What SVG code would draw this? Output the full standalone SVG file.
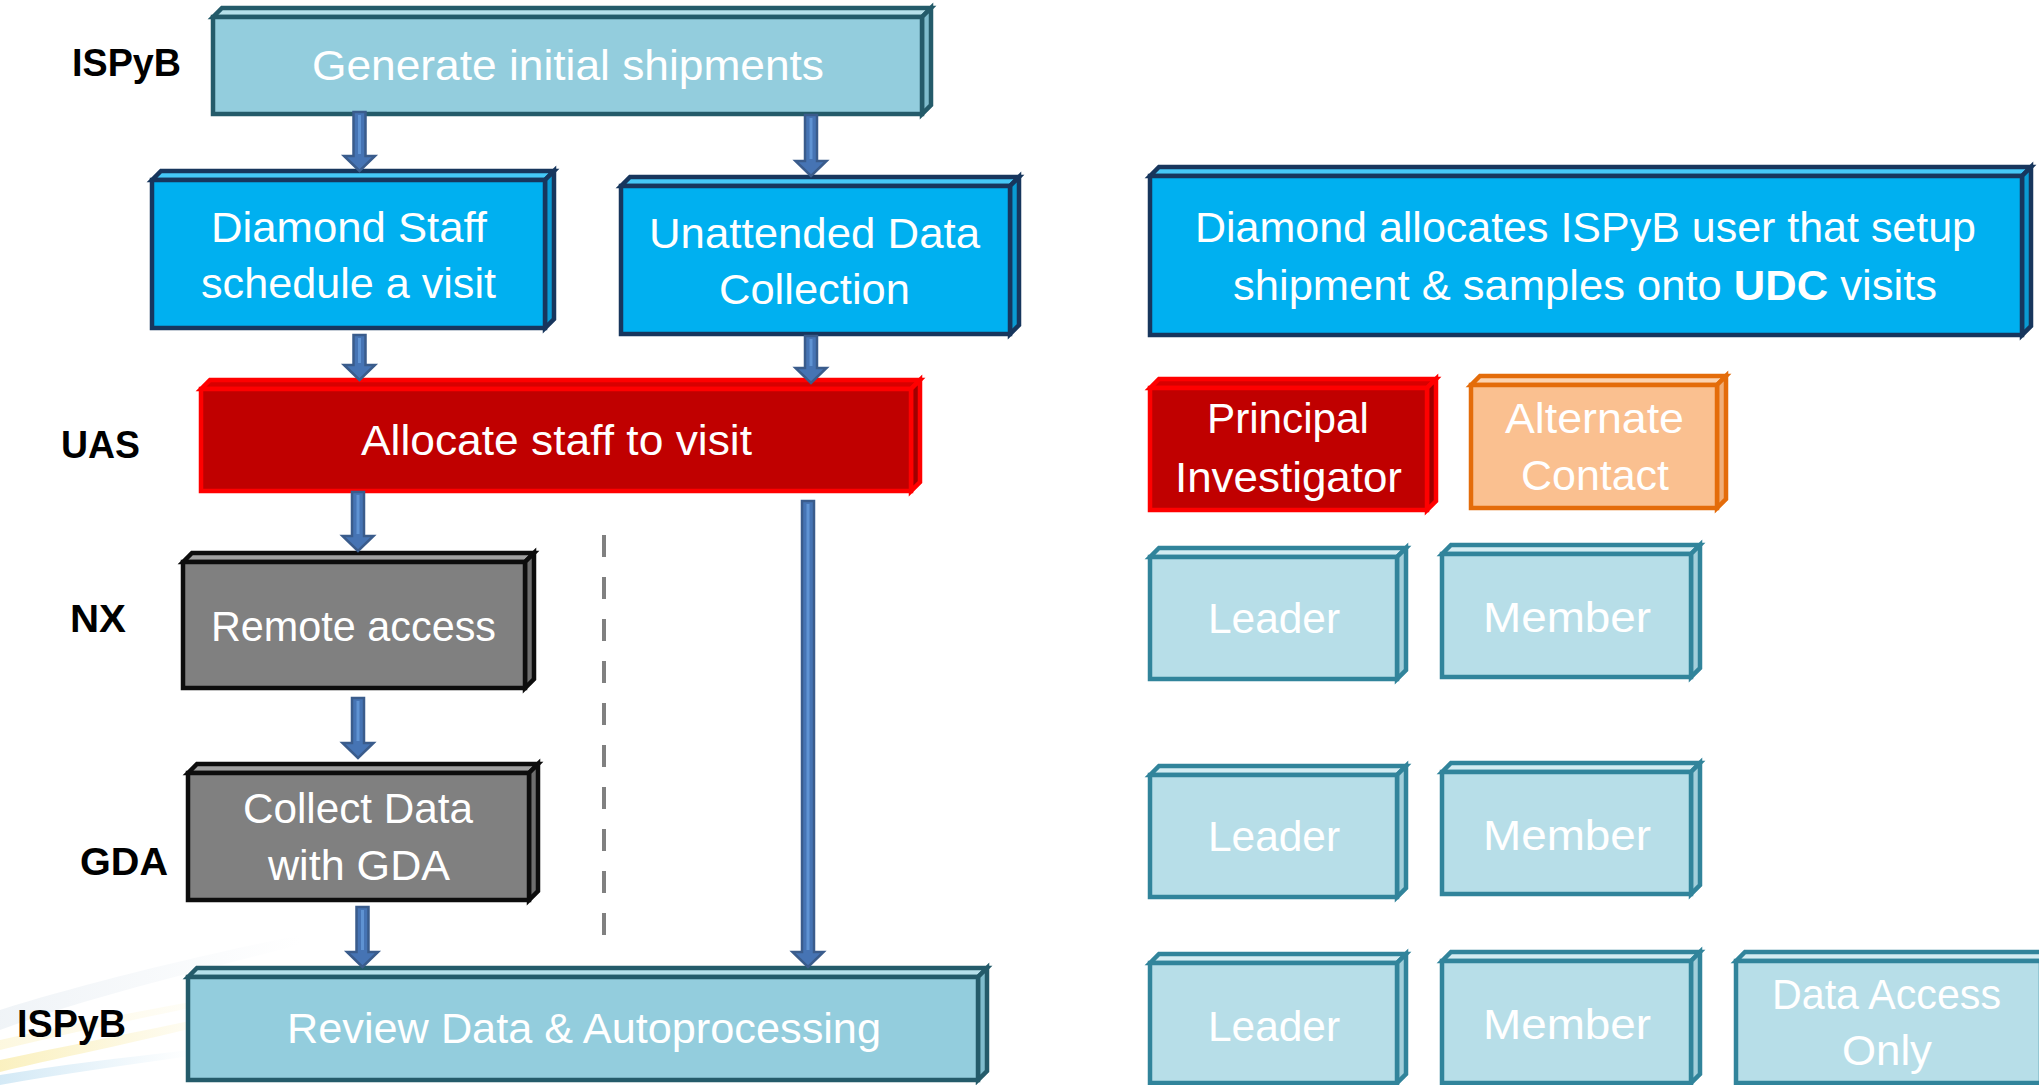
<svg xmlns="http://www.w3.org/2000/svg" width="2039" height="1085" viewBox="0 0 2039 1085">
<defs>
<style>
.t{font-family:"Liberation Sans",Arial,sans-serif;font-size:42px;fill:#ffffff;text-anchor:middle}
.lb{font-family:"Liberation Sans",Arial,sans-serif;font-size:39px;font-weight:bold;fill:#000000;text-anchor:middle}
.bx polygon,.bx rect{stroke-width:4.5;stroke-linejoin:miter}
.teal rect{fill:#93CDDD;stroke:#245B6A}.teal .top{fill:#B6E0EA;stroke:#245B6A}.teal .side{fill:#7FBCCD;stroke:#245B6A}
.blue rect{fill:#00B0F0;stroke:#17365D}.blue .top{fill:#45C8F7;stroke:#17365D}.blue .side{fill:#0A9AD2;stroke:#17365D}
.red rect{fill:#C00000;stroke:#FF0000}.red .top{fill:#D80000;stroke:#FF0000}.red .side{fill:#A00000;stroke:#FF0000}
.gray rect{fill:#808080;stroke:#0D0D0D}.gray .top{fill:#A0A0A0;stroke:#0D0D0D}.gray .side{fill:#6E6E6E;stroke:#0D0D0D}
.orange rect{fill:#FAC090;stroke:#E46C0A}.orange .top{fill:#FCD3B0;stroke:#E46C0A}.orange .side{fill:#F0AE78;stroke:#E46C0A}
.lblue rect{fill:#B7DEE8;stroke:#31849B}.lblue .top{fill:#D3ECF2;stroke:#31849B}.lblue .side{fill:#A2CFDB;stroke:#31849B}
.arr{fill:#4674B4;stroke:#3A5C8C;stroke-width:2.5;stroke-linejoin:miter}
.hl{stroke:#5F93D3;stroke-width:3;fill:none}
.dash{stroke:#808080;stroke-width:4;stroke-dasharray:22 20;fill:none}
</style>
<linearGradient id="sw1" x1="0" y1="0" x2="1" y2="0">
<stop offset="0" stop-color="#F2D64B" stop-opacity="0.35"/>
<stop offset="1" stop-color="#F2D64B" stop-opacity="0"/>
</linearGradient>
<linearGradient id="sw2" x1="0" y1="0" x2="1" y2="0">
<stop offset="0" stop-color="#6FB7E0" stop-opacity="0.3"/>
<stop offset="1" stop-color="#6FB7E0" stop-opacity="0"/>
</linearGradient>
<linearGradient id="sw3" x1="0" y1="0" x2="1" y2="0">
<stop offset="0" stop-color="#DDE6EE" stop-opacity="0.45"/>
<stop offset="1" stop-color="#DDE6EE" stop-opacity="0"/>
</linearGradient>
</defs>
<rect x="0" y="0" width="2039" height="1085" fill="#FFFFFF"/>
<g id="background-swoosh">
<path d="M0,1010 C80,985 180,960 300,935 L300,945 C180,975 80,1000 0,1030 Z" fill="url(#sw3)"/>
<path d="M0,1060 C70,1045 150,1030 240,1010 L240,1016 C150,1040 70,1055 0,1072 Z" fill="url(#sw1)"/>
<path d="M0,1075 C60,1065 120,1058 190,1050 L190,1056 C120,1066 60,1074 0,1085 Z" fill="url(#sw2)"/>
<path d="M0,1040 C90,1020 170,1005 260,990 L260,994 C170,1012 90,1028 0,1050 Z" fill="url(#sw1)" opacity="0.5"/>
</g>

<g id="labels">
<text class="lb" x="126.5" y="76" textLength="109" lengthAdjust="spacingAndGlyphs">ISPyB</text>
<text class="lb" x="100.5" y="458" textLength="79" lengthAdjust="spacingAndGlyphs">UAS</text>
<text class="lb" x="98" y="632" textLength="56" lengthAdjust="spacingAndGlyphs">NX</text>
<text class="lb" x="124" y="875" textLength="88" lengthAdjust="spacingAndGlyphs">GDA</text>
<text class="lb" x="71.5" y="1037" textLength="109" lengthAdjust="spacingAndGlyphs">ISPyB</text>
</g>

<g id="node-generate" class="bx teal">
<polygon class="top" points="213,17 222,8 931,8 922,17"/>
<polygon class="side" points="922,17 931,8 931,105 922,114"/>
<rect x="213" y="17" width="709" height="97"/>
<text class="t" x="568" y="80" textLength="512" lengthAdjust="spacingAndGlyphs">Generate initial shipments</text>
</g>

<g id="node-staff" class="bx blue">
<polygon class="top" points="152,180 161,171 554,171 545,180"/>
<polygon class="side" points="545,180 554,171 554,319 545,328"/>
<rect x="152" y="180" width="393" height="148"/>
<text class="t" x="349" y="242" textLength="276" lengthAdjust="spacingAndGlyphs">Diamond Staff</text>
<text class="t" x="348.5" y="298" textLength="295" lengthAdjust="spacingAndGlyphs">schedule a visit</text>
</g>

<g id="node-udc" class="bx blue">
<polygon class="top" points="621,186 630,177 1019,177 1010,186"/>
<polygon class="side" points="1010,186 1019,177 1019,325 1010,334"/>
<rect x="621" y="186" width="389" height="148"/>
<text class="t" x="814.5" y="248" textLength="331" lengthAdjust="spacingAndGlyphs">Unattended Data</text>
<text class="t" x="814.5" y="304" textLength="191" lengthAdjust="spacingAndGlyphs">Collection</text>
</g>

<g id="node-allocate" class="bx red">
<polygon class="top" points="201,389 210,380 920,380 911,389"/>
<polygon class="side" points="911,389 920,380 920,482 911,491"/>
<rect x="201" y="389" width="710" height="102"/>
<text class="t" x="556.5" y="455" textLength="391" lengthAdjust="spacingAndGlyphs">Allocate staff to visit</text>
</g>

<g id="node-remote" class="bx gray">
<polygon class="top" points="183,562 192,553 534,553 525,562"/>
<polygon class="side" points="525,562 534,553 534,679 525,688"/>
<rect x="183" y="562" width="342" height="126"/>
<text class="t" x="353.5" y="641" textLength="285" lengthAdjust="spacingAndGlyphs">Remote access</text>
</g>

<g id="node-collect" class="bx gray">
<polygon class="top" points="188,773 197,764 538,764 529,773"/>
<polygon class="side" points="529,773 538,764 538,891 529,900"/>
<rect x="188" y="773" width="341" height="127"/>
<text class="t" x="358" y="823" textLength="230" lengthAdjust="spacingAndGlyphs">Collect Data</text>
<text class="t" x="359" y="880" textLength="182" lengthAdjust="spacingAndGlyphs">with GDA</text>
</g>

<g id="node-review" class="bx teal">
<polygon class="top" points="188,977 197,968 987,968 978,977"/>
<polygon class="side" points="978,977 987,968 987,1071 978,1080"/>
<rect x="188" y="977" width="790" height="103"/>
<text class="t" x="584" y="1043" textLength="594" lengthAdjust="spacingAndGlyphs">Review Data &amp; Autoprocessing</text>
</g>

<g id="node-udc-info" class="bx blue">
<polygon class="top" points="1150,176 1159,167 2031,167 2022,176"/>
<polygon class="side" points="2022,176 2031,167 2031,326 2022,335"/>
<rect x="1150" y="176" width="872" height="159"/>
<text class="t" x="1585.5" y="242" textLength="781" lengthAdjust="spacingAndGlyphs">Diamond allocates ISPyB user that setup</text>
<text class="t" x="1585" y="300" textLength="704" lengthAdjust="spacingAndGlyphs">shipment &amp; samples onto <tspan font-weight="bold">UDC</tspan> visits</text>
</g>

<g id="node-pi" class="bx red">
<polygon class="top" points="1150,388 1159,379 1436,379 1427,388"/>
<polygon class="side" points="1427,388 1436,379 1436,501 1427,510"/>
<rect x="1150" y="388" width="277" height="122"/>
<text class="t" x="1288" y="433" textLength="162" lengthAdjust="spacingAndGlyphs">Principal</text>
<text class="t" x="1288.5" y="492" textLength="227" lengthAdjust="spacingAndGlyphs">Investigator</text>
</g>

<g id="node-alternate" class="bx orange">
<polygon class="top" points="1471,385 1480,376 1726,376 1717,385"/>
<polygon class="side" points="1717,385 1726,376 1726,499 1717,508"/>
<rect x="1471" y="385" width="246" height="123"/>
<text class="t" x="1594.5" y="433" textLength="179" lengthAdjust="spacingAndGlyphs">Alternate</text>
<text class="t" x="1595" y="490" textLength="148" lengthAdjust="spacingAndGlyphs">Contact</text>
</g>

<g id="node-leader-1" class="bx lblue">
<polygon class="top" points="1150,557 1159,548 1406,548 1397,557"/>
<polygon class="side" points="1397,557 1406,548 1406,670 1397,679"/>
<rect x="1150" y="557" width="247" height="122"/>
<text class="t" x="1274" y="633" textLength="132" lengthAdjust="spacingAndGlyphs">Leader</text>
</g>

<g id="node-member-1" class="bx lblue">
<polygon class="top" points="1442,554 1451,545 1700,545 1691,554"/>
<polygon class="side" points="1691,554 1700,545 1700,668 1691,677"/>
<rect x="1442" y="554" width="249" height="123"/>
<text class="t" x="1567" y="632" textLength="168" lengthAdjust="spacingAndGlyphs">Member</text>
</g>

<g id="node-leader-2" class="bx lblue">
<polygon class="top" points="1150,775 1159,766 1406,766 1397,775"/>
<polygon class="side" points="1397,775 1406,766 1406,888 1397,897"/>
<rect x="1150" y="775" width="247" height="122"/>
<text class="t" x="1274" y="851" textLength="132" lengthAdjust="spacingAndGlyphs">Leader</text>
</g>

<g id="node-member-2" class="bx lblue">
<polygon class="top" points="1442,772 1451,763 1700,763 1691,772"/>
<polygon class="side" points="1691,772 1700,763 1700,885 1691,894"/>
<rect x="1442" y="772" width="249" height="122"/>
<text class="t" x="1567" y="850" textLength="168" lengthAdjust="spacingAndGlyphs">Member</text>
</g>

<g id="node-leader-3" class="bx lblue">
<polygon class="top" points="1150,963 1159,954 1406,954 1397,963"/>
<polygon class="side" points="1397,963 1406,954 1406,1074 1397,1083"/>
<rect x="1150" y="963" width="247" height="120"/>
<text class="t" x="1274" y="1041" textLength="132" lengthAdjust="spacingAndGlyphs">Leader</text>
</g>

<g id="node-member-3" class="bx lblue">
<polygon class="top" points="1442,961 1451,952 1700,952 1691,961"/>
<polygon class="side" points="1691,961 1700,952 1700,1074 1691,1083"/>
<rect x="1442" y="961" width="249" height="122"/>
<text class="t" x="1567" y="1039" textLength="168" lengthAdjust="spacingAndGlyphs">Member</text>
</g>

<g id="node-data-access" class="bx lblue">
<polygon class="top" points="1736,961 1745,952 2050,952 2041,961"/>
<polygon class="side" points="2041,961 2050,952 2050,1074 2041,1083"/>
<rect x="1736" y="961" width="305" height="122"/>
<text class="t" x="1886.5" y="1009" textLength="229" lengthAdjust="spacingAndGlyphs">Data Access</text>
<text class="t" x="1887" y="1065" textLength="90" lengthAdjust="spacingAndGlyphs">Only</text>
</g>

<g id="connectors">
<path class="dash" d="M604,535 L604,937"/>
<polygon class="arr" points="353.5,112 365.5,112 365.5,156 375,156 359.5,171 344,156 353.5,156"/>
<path class="hl" d="M359.5,115 L359.5,154"/>
<polygon class="arr" points="805,115 817,115 817,161 826.5,161 811,176 795.5,161 805,161"/>
<path class="hl" d="M811,118 L811,159"/>
<polygon class="arr" points="353.5,335 365.5,335 365.5,365 375,365 359.5,380 344,365 353.5,365"/>
<path class="hl" d="M359.5,338 L359.5,363"/>
<polygon class="arr" points="805,336 817,336 817,368 826.5,368 811,383 795.5,368 805,368"/>
<path class="hl" d="M811,339 L811,366"/>
<polygon class="arr" points="352,492 364,492 364,536 373.5,536 358,551 342.5,536 352,536"/>
<path class="hl" d="M358,495 L358,534"/>
<polygon class="arr" points="352,698 364,698 364,743 373.5,743 358,758 342.5,743 352,743"/>
<path class="hl" d="M358,701 L358,741"/>
<polygon class="arr" points="356.5,907 368.5,907 368.5,952 378,952 362.5,967 347,952 356.5,952"/>
<path class="hl" d="M362.5,910 L362.5,950"/>
<polygon class="arr" points="802,501 814,501 814,952 823.5,952 808,967 792.5,952 802,952"/>
<path class="hl" d="M808,504 L808,950"/>
</g>
</svg>
